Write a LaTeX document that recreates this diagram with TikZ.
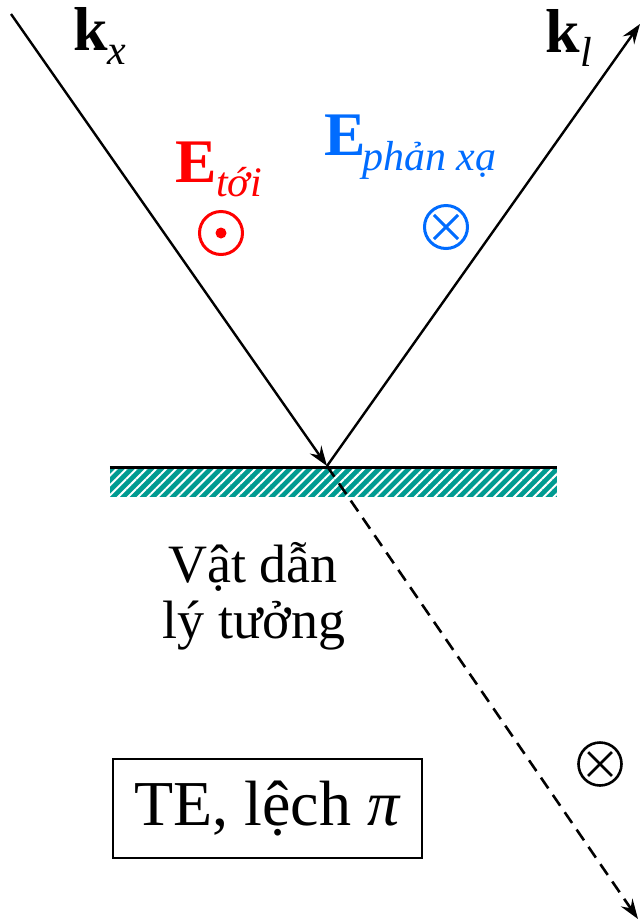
\documentclass[tikz,border=0pt]{standalone}
\usepackage{fontspec}
\setmainfont{Liberation Serif}
\usetikzlibrary{arrows.meta, patterns.meta}
\definecolor{hatchteal}{RGB}{0,155,145}
\definecolor{reflblue}{RGB}{0,108,255}
\definecolor{incred}{RGB}{255,0,0}
\tikzset{
  ray/.style={line width=2.4pt, -{Stealth[length=20pt,width=14pt,inset=7pt]}},
  lbl/.style={inner sep=0pt, outer sep=0pt, anchor=base west},
  fieldsym/.style={circle, draw, line width=3pt, minimum size=43pt, inner sep=0pt},
  big/.style={font=\fontsize{62}{62}\selectfont},
  bigbf/.style={font=\fontsize{62}{62}\selectfont\bfseries},
  mid/.style={font=\fontsize{54}{54}\selectfont, inner sep=0pt, anchor=base},
  sub/.style={font=\fontsize{42}{42}\selectfont\itshape}
}
\begin{document}
\begin{tikzpicture}[x=1pt,y=-1pt]
\useasboundingbox (0,0) rectangle (643,922);
\coordinate (O) at (327,466);
\coordinate (kin) at (11,14);
\coordinate (kout) at (640,24);
\coordinate (ktr) at (638,919);
\node[fill=hatchteal, minimum width=447pt, minimum height=29pt, inner sep=0pt,
  postaction={pattern={Lines[angle=45,distance=7pt,line width=2pt]}, pattern color=white}] (plate) at (333.5,482.5) {};
\draw[line width=3pt] (plate.north west) -- (plate.north east);
\draw[ray] (kin) -- (O);
\draw[ray] (O) -- (kout);
\draw[ray, line width=2.6pt, dash pattern=on 13pt off 8pt] (O) -- (ktr);
\node[lbl, bigbf] (kx) at (73,50) {k};
\node[lbl, sub] (kxs) at (107,64) {x};
\node[lbl, bigbf] (kl) at (545,52) {k};
\node[lbl, sub] (kls) at (580,66) {l};
\node[lbl, incred, bigbf] (Ei) at (175,182) {E};
\node[lbl, incred, sub] (Eis) at (216,196) {tới};
\node[lbl, reflblue, bigbf] (Er) at (324,155) {E};
\node[lbl, reflblue, sub] (Ers) at (362,170) {phản xạ};
\node[fieldsym, incred] (dotI) at (221,233) {};
\fill[incred] (dotI.center) circle (5.5);
\node[fieldsym, reflblue] (crossR) at (446,227) {};
\draw[reflblue, line width=3pt, shorten <=6pt, shorten >=6pt] (crossR.45) -- (crossR.225);
\draw[reflblue, line width=3pt, shorten <=6pt, shorten >=6pt] (crossR.135) -- (crossR.315);
\node[fieldsym, black, line width=2.6pt] (crossT) at (600,764) {};
\draw[line width=2.6pt, shorten <=6pt, shorten >=6pt] (crossT.45) -- (crossT.225);
\draw[line width=2.6pt, shorten <=6pt, shorten >=6pt] (crossT.135) -- (crossT.315);
\node[mid] (cond1) at (253,582) {Vật dẫn};
\node[mid] (cond2) at (254,638) {lý tưởng};
\node[draw, line width=2.4pt, minimum width=309pt, minimum height=99pt, inner sep=0pt,
  font=\fontsize{64}{64}\selectfont] (mode) at (267.5,808.5) {TE, lệch \textit{π}};
\end{tikzpicture}
\end{document}
